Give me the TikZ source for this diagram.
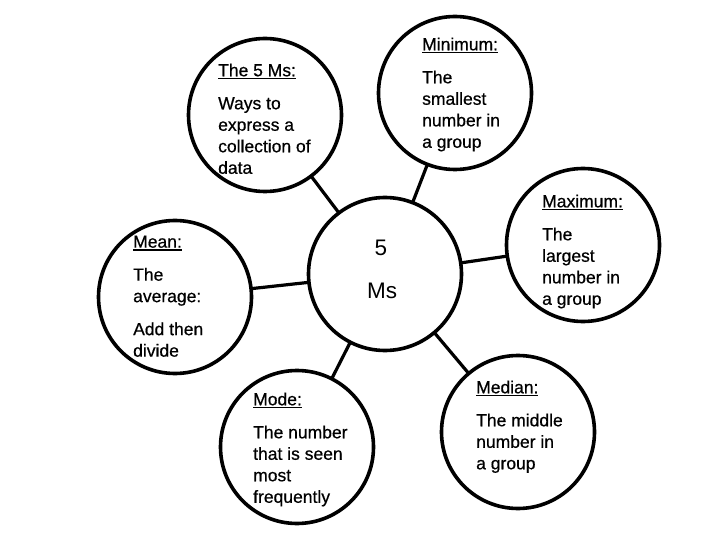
\documentclass[tikz,border=0pt]{standalone}
\usepackage{fontspec}
\setmainfont{Liberation Sans}[FakeBold=0.6]
\newfontfamily\hubfont{Liberation Sans}
\newcommand{\headul}[1]{\setbox0=\hbox{#1}\rlap{\rule[-3.2pt]{\wd0}{1.4pt}}\box0}
\begin{document}
\begin{tikzpicture}[x=1pt,y=-1pt,
  bubble/.style={circle, draw=black, line width=3.6pt, minimum size=153pt, inner sep=0pt, outer sep=0pt},
  link/.style={line width=3.2pt, draw=black},
  txt/.style={anchor=north west, align=left, inner sep=0pt, font=\fontsize{17.5}{21.5}\selectfont},
  big/.style={anchor=base, inner sep=0pt, font=\hubfont\fontsize{22.5}{27}\selectfont}]
\fill[white] (0,0) rectangle (720,540);
\useasboundingbox (0,0) rectangle (720,540);
% circles
\node[bubble] (hub)   at (385,274) {};
\node[bubble] (fivec) at (265,115) {};
\node[bubble] (minc)  at (455,93)  {};
\node[bubble] (maxc)  at (583,245) {};
\node[bubble] (meanc) at (175,297) {};
\node[bubble] (modec) at (297,447) {};
\node[bubble] (medc)  at (518,432) {};
% connectors
\draw[link] (hub) -- (fivec);
\draw[link] (hub) -- (minc);
\draw[link] (hub) -- (maxc);
\draw[link] (hub) -- (meanc);
\draw[link] (hub) -- (modec);
\draw[link] (hub) -- (medc);
% center text
\node[big] (five) at (381,255) {5};
\node[big] (ms)   at (382,298) {Ms};
% texts
\node[txt] (fivet) at (218,63.4) {\headul{The 5 Ms:}\\[11.5pt]Ways to\\express a\\collection of\\data};
\node[txt] (mint)  at (422,37.4) {\headul{Minimum:}\\[11.5pt]The\\smallest\\number in\\a group};
\node[txt] (maxt)  at (542,194.4) {\headul{Maximum:}\\[11.5pt]The\\largest\\number in\\a group};
\node[txt] (meant) at (133,235.4) {\headul{Mean:}\\[11.5pt]The\\average:\\[11.5pt]Add then\\divide};
\node[txt] (modet) at (253,392.4) {\headul{Mode:}\\[11.5pt]The number\\that is seen\\most\\frequently};
\node[txt] (medt)  at (476,380.4) {\headul{Median:}\\[11.5pt]The middle\\number in\\a group};
\end{tikzpicture}
\end{document}
